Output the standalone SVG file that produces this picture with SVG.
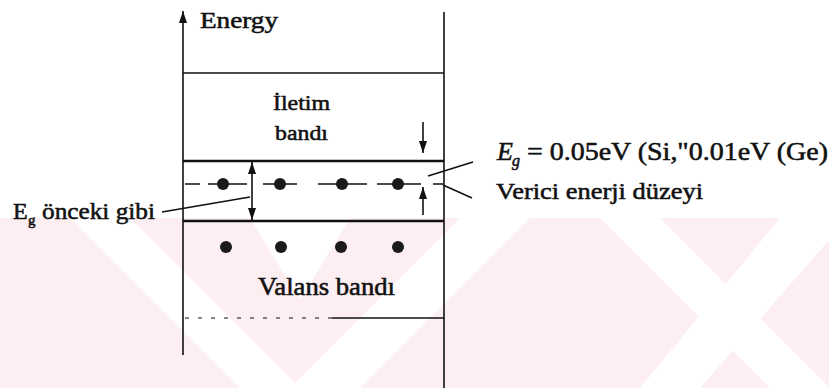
<svg xmlns="http://www.w3.org/2000/svg" width="829" height="388" viewBox="0 0 829 388">
<defs>
<marker id="ah" viewBox="0 0 12 8" refX="12" refY="4" markerWidth="12" markerHeight="8" markerUnits="userSpaceOnUse" orient="auto-start-reverse"><path d="M0,0 L12,4 L0,8 z" fill="#111"/></marker>
</defs>
<style>
.ln{stroke:#111;fill:none;stroke-width:1.6}
.thick{stroke:#111;fill:none;stroke-width:2.6}
.t{font-family:"Liberation Serif","Times New Roman",serif;fill:#111;stroke:#111;stroke-width:0.55}
.dot{fill:#1a1a1a}
.wm{fill:#fdeef1}
.wmw{fill:#ffffff}
</style>
<rect x="0" y="0" width="829" height="388" fill="#ffffff"/>
<g id="watermark">
<rect class="wm" x="0" y="218" width="829" height="170"/>
<polygon class="wmw" points="70,218 130,218 300,388 240,388"/>
<polygon class="wmw" points="250,218 350,218 300,300"/>
<polygon class="wmw" points="460,218 530,218 360,388 290,388"/>
<polygon class="wmw" points="600,218 660,218 830,388 770,388"/>
<polygon class="wmw" points="760,218 829,218 829,240 700,388 640,388 780,218"/>
</g>
<g id="axis">
<line class="ln" x1="183" y1="355" x2="183" y2="11" marker-end="url(#ah)"/>
<text class="t" x="200" y="28" font-size="24" textLength="78" lengthAdjust="spacingAndGlyphs">Energy</text>
</g>
<g id="frame">
<line class="ln" x1="444" y1="12" x2="444" y2="388"/>
</g>
<g id="conduction-band">
<line class="ln" x1="183" y1="73" x2="444" y2="73"/>
<line class="thick" x1="183" y1="161" x2="444" y2="161"/>
<text class="t" x="273" y="110" font-size="22" textLength="57" lengthAdjust="spacingAndGlyphs">İletim</text>
<text class="t" x="275" y="140" font-size="22" textLength="53" lengthAdjust="spacingAndGlyphs">bandı</text>
</g>
<g id="donor-level">
<path class="ln" d="M185,184 H200 M208,184 H247 M263,184 H297 M318,184 H367 M377,184 H421 M433,184 H443"/>
<circle class="dot" cx="223" cy="184" r="6"/>
<circle class="dot" cx="280" cy="184" r="6"/>
<circle class="dot" cx="342" cy="184" r="6"/>
<circle class="dot" cx="398" cy="184" r="6"/>
</g>
<g id="valence-band">
<line class="thick" x1="183" y1="221" x2="444" y2="221"/>
<circle class="dot" cx="226" cy="247" r="6"/>
<circle class="dot" cx="281" cy="247" r="6"/>
<circle class="dot" cx="341" cy="247" r="6"/>
<circle class="dot" cx="398" cy="247" r="6"/>
<text class="t" x="258" y="295" font-size="25" textLength="137" lengthAdjust="spacingAndGlyphs">Valans bandı</text>
<line stroke="#111" stroke-width="1.2" stroke-dasharray="4,9" x1="185" y1="318" x2="332" y2="318"/>
<line class="ln" x1="332" y1="318" x2="444" y2="318"/>
</g>
<g id="label-eg-right">
<text class="t" x="497" y="160" font-size="26" font-style="italic">E</text>
<text class="t" x="512" y="166" font-size="16" font-style="italic">g</text>
<text class="t" x="527" y="160" font-size="26" textLength="301" lengthAdjust="spacingAndGlyphs">= 0.05eV (Si,"0.01eV (Ge)</text>
</g>
<g id="label-verici">
<text class="t" x="496" y="199" font-size="24" textLength="207" lengthAdjust="spacingAndGlyphs">Verici enerji düzeyi</text>
</g>
<g id="label-eg-left">
<text class="t" x="13" y="219" font-size="24">E</text>
<text class="t" x="28" y="225" font-size="15">g</text>
<text class="t" x="42" y="219" font-size="24" textLength="113" lengthAdjust="spacingAndGlyphs">önceki gibi</text>
</g>
<g id="connectors">
<line class="ln" x1="252" y1="190" x2="252" y2="162" marker-end="url(#ah)"/>
<line class="ln" x1="252" y1="190" x2="252" y2="220" marker-end="url(#ah)"/>
<line class="ln" x1="423" y1="122" x2="423" y2="153" marker-end="url(#ah)"/>
<line class="ln" x1="423" y1="215" x2="423" y2="187" marker-end="url(#ah)"/>
<line class="ln" x1="162" y1="212" x2="250" y2="197"/>
<line class="ln" x1="428" y1="176" x2="473" y2="162"/>
<line class="ln" x1="443" y1="185" x2="472" y2="198"/>
</g>
</svg>
